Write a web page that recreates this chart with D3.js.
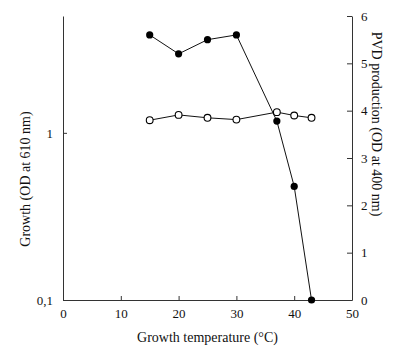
<script src='https://d3js.org/d3.v7.min.js'></script>
<style>body{margin:0;background:#fff;} text{font-family:'Liberation Serif',serif;fill:#111;}</style>
<svg id='chart'></svg>
<script>
var temps=[15,20,25,30,37,40,43],
    growth=[1.19,1.28,1.23,1.20,1.33,1.27,1.23],
    pvd=[5.6,5.2,5.5,5.6,3.78,2.4,0],
    xTicks=[0,10,20,30,40,50],
    growthTicks=[0.1,1],
    growthLabels=['0,1','1'],
    pvdTicks=[0,1,2,3,4,5,6];
var W=395,H=346,x0=63,x1=352,yTop=16,yBot=300;
var svg=d3.select('#chart').attr('width',W).attr('height',H);
var x=d3.scaleLinear().domain([0,50]).range([x0,x1]),
    yL=d3.scaleLog().domain([0.1,5]).range([yBot,yTop]),
    yR=d3.scaleLinear().domain([0,6]).range([yBot,yTop]);
function style(g){
  g.attr('font-family','Liberation Serif').attr('font-size',13);
  g.select('.domain').attr('stroke','#333');
  g.selectAll('.tick line').attr('stroke','#333');
  g.selectAll('text').attr('fill','#111');
}
svg.append('g').attr('transform','translate(0,'+yBot+')')
   .call(d3.axisBottom(x).tickValues(xTicks).tickSize(-4).tickSizeOuter(0).tickPadding(9))
   .call(style);
svg.append('g').attr('transform','translate('+x0+',0)')
   .call(d3.axisLeft(yL).tickValues(growthTicks).tickSize(-4).tickSizeOuter(0).tickPadding(10)
         .tickFormat(function(d,i){return growthLabels[i];}))
   .call(style);
svg.append('g').attr('transform','translate('+x1+',0)')
   .call(d3.axisRight(yR).tickValues(pvdTicks).tickSize(-5).tickSizeOuter(0).tickPadding(9)
         .tickFormat(d3.format('d')))
   .call(style);
// lines
var lineG=d3.line().x(function(d,i){return x(temps[i]);}).y(function(d){return yL(d);}),
    lineP=d3.line().x(function(d,i){return x(temps[i]);}).y(function(d){return yR(d);});
svg.append('path').datum(pvd).attr('d',lineP).attr('fill','none').attr('stroke','#111').attr('stroke-width',1);
svg.append('path').datum(growth).attr('d',lineG).attr('fill','none').attr('stroke','#111').attr('stroke-width',1);
svg.selectAll('.pvd').data(pvd).enter().append('circle')
   .attr('cx',function(d,i){return x(temps[i]);}).attr('cy',function(d){return yR(d);})
   .attr('r',3.6).attr('fill','#000');
svg.selectAll('.gr').data(growth).enter().append('circle')
   .attr('cx',function(d,i){return x(temps[i]);}).attr('cy',function(d){return yL(d);})
   .attr('r',3.4).attr('fill','#fff').attr('stroke','#000').attr('stroke-width',1.1);
// titles
svg.append('text').attr('x',x(25)).attr('y',342).attr('text-anchor','middle')
   .attr('font-size',14).text('Growth temperature (°C)');
svg.append('text').attr('transform','translate(30,179) rotate(-90)').attr('text-anchor','middle')
   .attr('font-size',14).text('Growth (OD at 610 nm)');
svg.append('text').attr('transform','translate(372,124) rotate(90)').attr('text-anchor','middle')
   .attr('font-size',14).text('PVD production (OD at 400 nm)');
</script>
